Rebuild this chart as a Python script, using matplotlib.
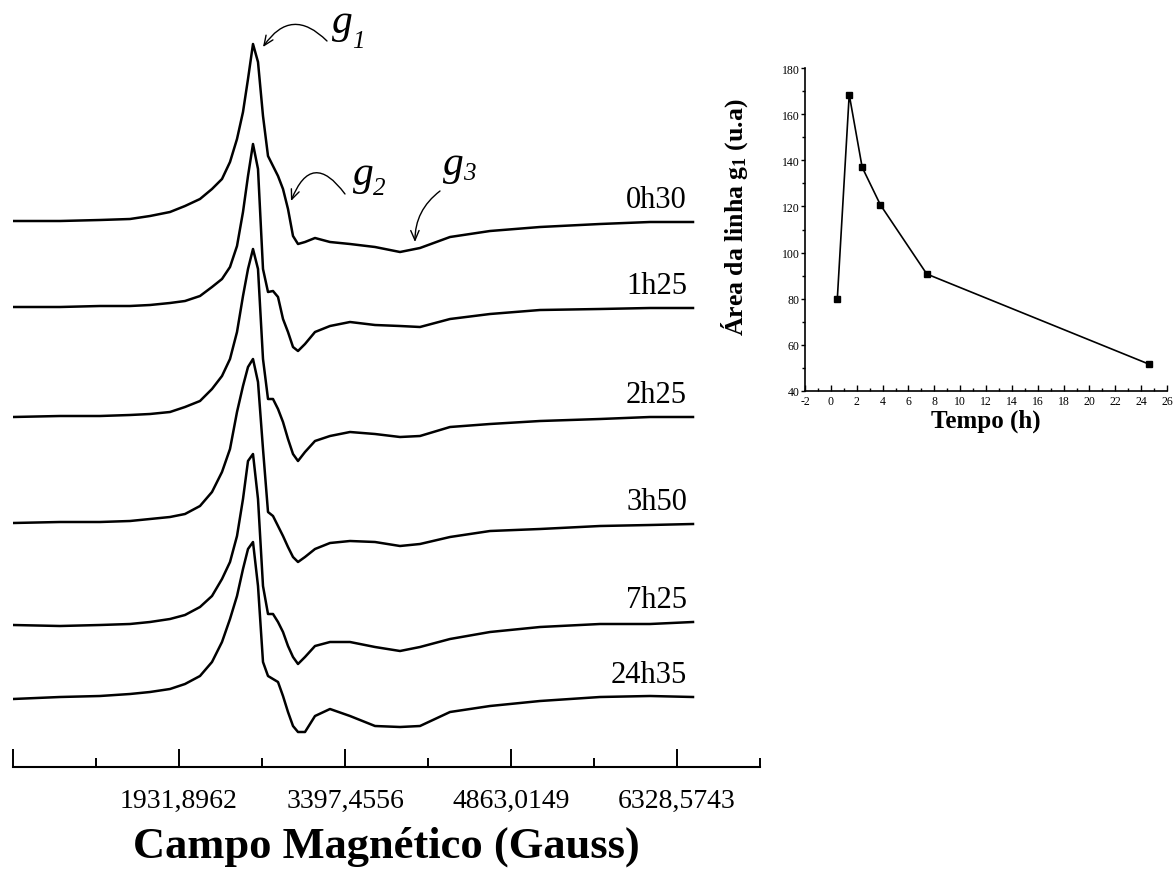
import matplotlib
matplotlib.use('Agg')
import matplotlib.pyplot as plt
from matplotlib.ticker import FixedLocator, MultipleLocator

# ==========================================
# FONTES
# ==========================================

plt.rcParams['font.family'] = ['Liberation Serif', 'DejaVu Serif']
plt.rcParams['mathtext.fontset'] = 'custom'
plt.rcParams['mathtext.rm'] = 'Liberation Serif'
plt.rcParams['mathtext.it'] = 'Liberation Serif:italic'
plt.rcParams['mathtext.bf'] = 'Liberation Serif:bold'
plt.rcParams['axes.unicode_minus'] = False

# ==========================================
# DADOS - ESPECTROS EPR
# ==========================================

campo = [466.3, 881.3, 1234.4, 1499.3, 1675.9, 1852.4, 1984.9, 2117.3,
         2223.2, 2311.5, 2382.2, 2444.0, 2496.9, 2541.1, 2585.2, 2629.4,
         2673.5, 2717.7, 2761.8, 2806.0, 2850.1, 2894.2, 2938.4, 2982.5,
         3044.3, 3132.6, 3265.0, 3441.6, 3662.4, 3883.1, 4059.6, 4324.5,
         4677.6, 5119.0, 5648.8, 6090.2, 6469.9]

int_0h30 = [0, 0, 1, 2, 5, 9, 15, 22, 32, 42, 59, 82, 109, 142, 177, 159,
            105, 65, 55, 45, 32, 12, -15, -23, -21, -17, -21, -23, -26, -31,
            -27, -16, -10, -6, -3, -1, -1]
int_1h25 = [1, 1, 2, 2, 3, 5, 7, 12, 21, 29, 41, 62, 96, 132, 164, 139,
            39, 16, 17, 11, -11, -24, -39, -43, -36, -24, -18, -14, -17, -18,
            -19, -11, -6, -2, -1, 0, 0]
int_2h25 = [0, 1, 1, 2, 3, 5, 10, 16, 28, 41, 58, 85, 121, 148, 168, 148,
            58, 18, 18, 8, -5, -22, -37, -44, -35, -24, -19, -15, -17, -20,
            -19, -10, -7, -4, -2, 0, 0]
int_3h50 = [0, 1, 1, 2, 4, 6, 9, 17, 31, 51, 74, 111, 137, 156, 164, 141,
            74, 11, 7, -3, -13, -24, -34, -39, -34, -26, -20, -18, -19, -23,
            -21, -14, -8, -6, -3, -2, -1]
int_7h25 = [0, -1, 0, 1, 3, 6, 10, 18, 29, 46, 63, 89, 126, 164, 171, 126,
            39, 11, 11, 3, -7, -21, -32, -39, -32, -21, -17, -17, -22, -26,
            -22, -14, -7, -2, 1, 1, 3]
int_24h35 = [0, 2, 3, 5, 7, 10, 15, 23, 37, 57, 80, 103, 130, 150, 157, 113,
             37, 23, 20, 17, 3, -13, -27, -33, -33, -17, -10, -17, -27, -28,
             -27, -13, -7, -2, 2, 3, 2]

espectros = [int_0h30, int_1h25, int_2h25, int_3h50, int_7h25, int_24h35]
rotulos = ['0h30', '1h25', '2h25', '3h50', '7h25', '24h35']
deslocamento = [546, 459, 350, 244, 142, 68]

ticks_campo = [466.3368, 1931.8962, 3397.4556, 4863.0149, 6328.5743]
rotulos_campo = ['', '1931,8962', '3397,4556', '4863,0149', '6328,5743']

# ==========================================
# DADOS - AREA DA LINHA g1
# ==========================================

tempo = [0.5, 1.42, 2.42, 3.83, 7.42, 24.58]
area_g1 = [80, 168.5, 137, 120.7, 90.7, 51.7]

# ==========================================
# FIGURA
# ==========================================

fig = plt.figure(figsize=(11.73, 8.7), dpi=100)

ax = fig.add_axes([13 / 1173, 102 / 870, 747 / 1173, 768 / 870])

for intens, desl in zip(espectros, deslocamento):
    ax.plot(campo, [v + desl for v in intens], color='black', lw=1.8)

for intens, desl, rot in zip(espectros, deslocamento, rotulos):
    ax.text(6417, desl + intens[-1] + 15, rot, ha='right', va='baseline',
            fontsize=22)

ax.set_xlim(466.3368, 7061.354)
ax.set_ylim(0, 768)

for lado in ['left', 'right', 'top']:
    ax.spines[lado].set_visible(False)
ax.spines['bottom'].set_linewidth(1.5)

ax.set_yticks([])
ax.xaxis.set_major_locator(FixedLocator(ticks_campo))
ax.set_xticklabels(rotulos_campo)
meios = [t + 732.7797 for t in ticks_campo]
ax.xaxis.set_minor_locator(FixedLocator(meios))
ax.tick_params(axis='x', which='major', direction='in', length=13,
               width=1.4, labelsize=20, pad=15)
ax.tick_params(axis='x', which='minor', direction='in', length=6.5,
               width=1.4)

fig.text(386 / 1173, 12 / 870, 'Campo Magnético (Gauss)', ha='center',
         va='baseline', fontsize=32, fontweight='bold')

# ==========================================
# SETAS g1, g2, g3
# ==========================================

seta = dict(arrowstyle='->,head_length=0.7,head_width=0.3', color='black',
            lw=1.0, shrinkA=0, shrinkB=0)

ax.annotate('', xy=(2673.5, 720), xytext=(3238.5, 726),
            arrowprops=dict(seta, connectionstyle='arc3,rad=0.6'))
ax.annotate('', xy=(2920.7, 566), xytext=(3397.4, 573),
            arrowprops=dict(seta, connectionstyle='arc3,rad=0.9'))
ax.annotate('', xy=(4015.4, 525), xytext=(4236.2, 576),
            arrowprops=dict(seta, connectionstyle='arc3,rad=0.25'))

ax.text(3282.7, 735, 'g', fontsize=30, fontstyle='italic', va='baseline')
ax.text(3459.3, 720, '1', fontsize=18, fontstyle='italic', va='baseline')
ax.text(3468.1, 583, 'g', fontsize=30, fontstyle='italic', va='baseline')
ax.text(3644.7, 573, '2', fontsize=18, fontstyle='italic', va='baseline')
ax.text(4262.7, 593, 'g', fontsize=30, fontstyle='italic', va='baseline')
ax.text(4439.3, 588, '3', fontsize=18, fontstyle='italic', va='baseline')

# ==========================================
# GRAFICO AREA x TEMPO
# ==========================================

ax2 = fig.add_axes([805 / 1173, 478 / 870, 362 / 1173, 323 / 870])

ax2.plot(tempo, area_g1, color='black', lw=1.2, marker='s',
         markersize=4.5)

ax2.set_xlim(-2, 26)
ax2.set_ylim(40, 180)
ax2.spines['right'].set_visible(False)
ax2.spines['top'].set_visible(False)
ax2.spines['left'].set_linewidth(1.2)
ax2.spines['bottom'].set_linewidth(1.2)

ax2.xaxis.set_major_locator(MultipleLocator(2))
ax2.xaxis.set_minor_locator(MultipleLocator(1))
ax2.yaxis.set_major_locator(MultipleLocator(20))
ax2.yaxis.set_minor_locator(MultipleLocator(10))
ax2.tick_params(axis='x', which='major', direction='in', length=4,
                width=1, labelsize=8.5, pad=3)
ax2.tick_params(axis='x', which='minor', direction='in', length=2.5,
                width=1)
ax2.tick_params(axis='y', which='major', direction='out', length=3,
                width=1, labelsize=8.5, pad=1)
ax2.tick_params(axis='y', which='minor', direction='out', length=2,
                width=1)

ax2.set_xlabel('Tempo (h)', fontsize=18, fontweight='bold', labelpad=1)
ax2.set_ylabel(r'Área da linha $\mathbf{g}_\mathbf{1}$ (u.a)', fontsize=18.5,
               fontweight='bold')
ax2.yaxis.set_label_coords(-0.152, 0.54)

# ==========================================
# SALVAR
# ==========================================

plt.savefig('out.png', dpi=100)
